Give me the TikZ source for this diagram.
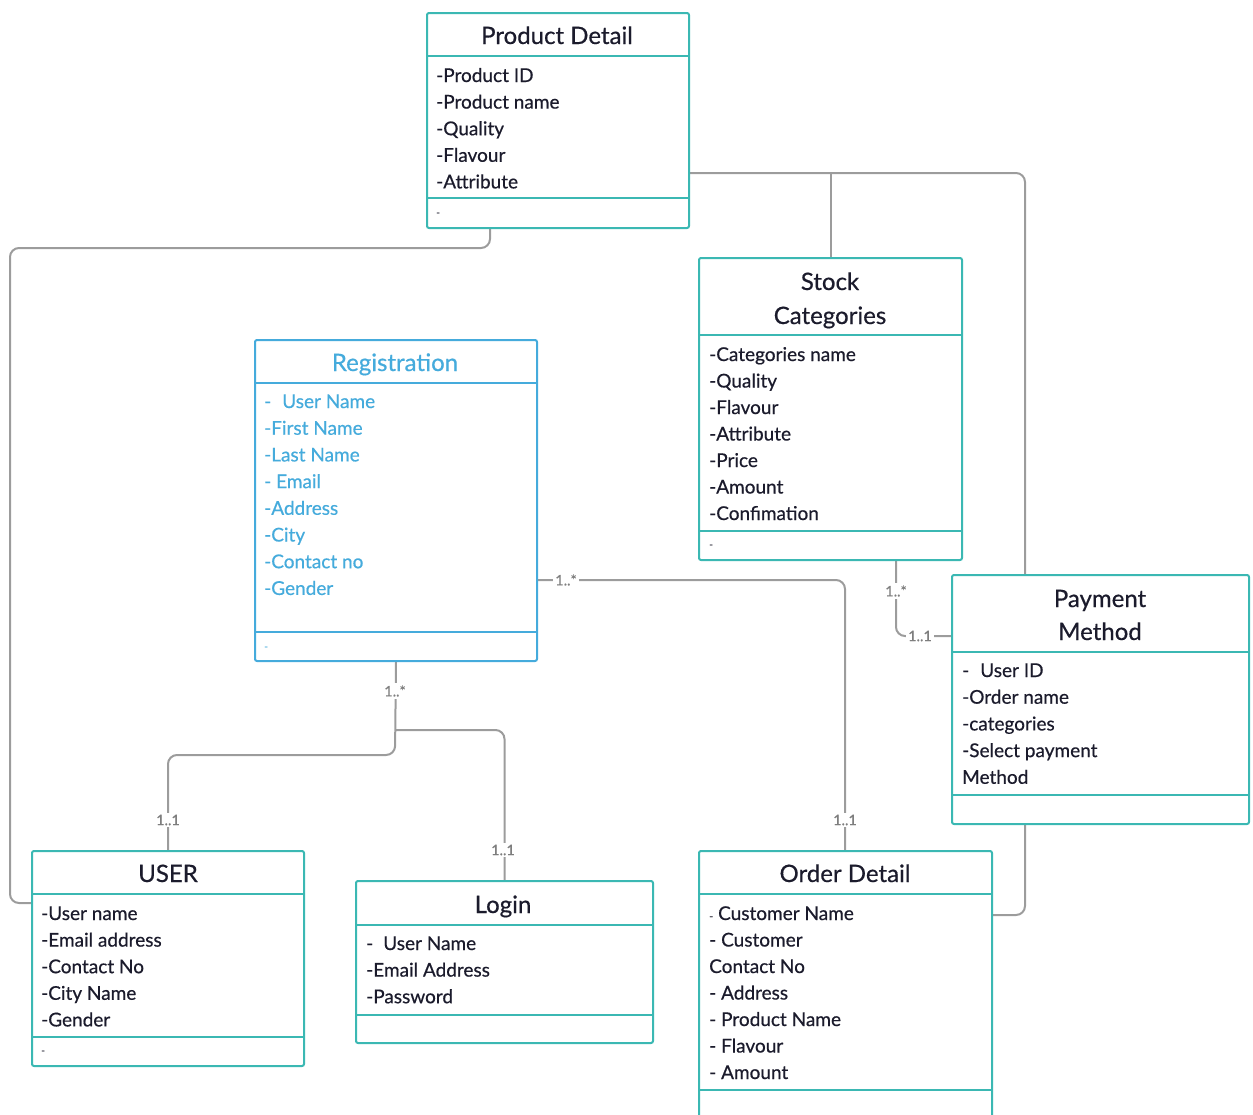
\documentclass[tikz,border=0pt]{standalone}
\usepackage{fontspec}
\setmainfont{Lato}[FakeBold=0.5]
\definecolor{frameteal}{HTML}{3BB8B3}
\definecolor{regblue}{HTML}{45ABDC}
\definecolor{ink}{HTML}{1B1B2C}
\definecolor{wire}{HTML}{9C9C9C}
\definecolor{multgrey}{HTML}{7E7E7E}
\tikzset{
  box/.style={draw=frameteal, line width=2pt, rounded corners=2pt, anchor=north west, inner sep=0pt},
  regbox/.style={box, draw=regblue},
  divider/.style={draw=frameteal, line width=2pt},
  regdivider/.style={draw=regblue, line width=2pt},
  title/.style={anchor=base, inner sep=0pt, text=ink, font=\fontsize{24}{28}\selectfont},
  attr/.style={anchor=base west, inner sep=0pt, text=ink, font=\fontsize{19}{22}\selectfont},
  regattr/.style={attr, text=regblue},
  tiny/.style={anchor=base west, inner sep=0pt, text=ink, font=\fontsize{10}{10}\selectfont},
  link/.style={draw=wire, line width=2pt, rounded corners=9pt},
  mult/.style={fill=white, inner sep=2pt, text=multgrey, font=\fontsize{14.5}{14.5}\selectfont}
}
\begin{document}
\begin{tikzpicture}[x=1pt,y=-1pt]
\useasboundingbox (0,0) rectangle (1253,1114);
\clip (0,0) rectangle (1253,1114);

% ---------- box outlines used as connector anchors ----------
\node[box, draw=none, minimum width=262pt, minimum height=215pt] (pd) at (426,12) {};
\node[box, draw=none, minimum width=263pt, minimum height=302pt] (sc) at (698,257) {};
\node[box, draw=none, minimum width=282pt, minimum height=321pt] (reg) at (254,339) {};
\node[box, draw=none, minimum width=297pt, minimum height=249pt] (pm) at (951,574) {};
\node[box, draw=none, minimum width=272pt, minimum height=215pt] (user) at (31,850) {};
\node[box, draw=none, minimum width=297pt, minimum height=162pt] (login) at (355,880) {};
\node[box, draw=none, minimum width=293pt, minimum height=280pt] (od) at (698,850) {};

% ---------- connectors (drawn first, boxes cover them) ----------
\coordinate (c1) at (1025,173);
\coordinate (c2) at (1025,915);
\coordinate (c3) at (490,248);
\coordinate (c4) at (10,903);
\coordinate (c5) at (845,580);
\coordinate (c6) at (896,636);
\coordinate (c7) at (395,755);
\coordinate (c8) at (168,755);
\coordinate (c9) at (395,730);

\draw[link] (c1 -| pd.east) -- (c1) -- (c1 |- pm.north);
\draw[link] (sc.north |- c1) -- (sc.north);
\draw[link] (c2 |- pm.south) -- (c2) -- (c2 -| od.east);
\draw[link] (c3 |- pd.south) -- (c3) -- (c4 |- c3) -- (c4) -- (c4 -| user.west);
\draw[link] (c5 -| reg.east) -- (c5) -- (c5 |- od.north);
\draw[link] (c6 |- sc.south) -- (c6) -- (c6 -| pm.west);
\draw[link] (reg.south) -- (c7) -- (c8) -- (user.north);
\draw[link] (c9) -- (login.north |- c9) -- (login.north);

\node[mult] (m1) at (566,580) {1..*};
\node[mult] (m2) at (845,820) {1..1};
\node[mult] (m3) at (896,591) {1..*};
\node[mult] (m4) at (920,636) {1..1};
\node[mult] (m5) at (395,691) {1..*};
\node[mult] (m6) at (168,820) {1..1};
\node[mult] (m7) at (503,850) {1..1};

% ---------- Product Detail ----------
\node[box, fill=white, minimum width=262pt, minimum height=215pt] at (426,12) {};
\draw[divider] (426,56) -- (688,56);
\draw[divider] (426,198) -- (688,198);
\node[title] (pd-t) at (557,44) {Product Detail};
\foreach \t [count=\i] in {-Product ID,-Product name,-Quality,-Flavour,-Attribute}
  \node[attr] (pd-\i) at (436,{82+26.6*(\i-1)}) {\t};
\node[tiny] (pd-m) at (436,216) {-};

% ---------- Stock Categories ----------
\node[box, fill=white, minimum width=263pt, minimum height=302pt] at (698,257) {};
\draw[divider] (698,335) -- (961,335);
\draw[divider] (698,531) -- (961,531);
\node[title] (sc-t1) at (830,290) {Stock};
\node[title] (sc-t2) at (830,324) {Categories};
\foreach \t [count=\i] in {-Categories name,-Quality,-Flavour,-Attribute,-Price,-Amount,-Confimation}
  \node[attr] (sc-\i) at (709,{361+26.5*(\i-1)}) {\t};
\node[tiny] (sc-m) at (709,548) {-};

% ---------- Registration ----------
\node[regbox, fill=white, minimum width=282pt, minimum height=321pt] at (254,339) {};
\draw[regdivider] (254,383) -- (536,383);
\draw[regdivider] (254,632) -- (536,632);
\node[title, text=regblue] (reg-t) at (395,371) {Registration};
\foreach \t [count=\i] in {{-\hspace{11pt}User Name},-First Name,-Last Name,- Email,-Address,-City,-Contact no,-Gender}
  \node[regattr] (reg-\i) at (264,{408+26.7*(\i-1)}) {\t};
\node[tiny, text=regblue] (reg-m) at (264,650) {-};

% ---------- Payment Method ----------
\node[box, fill=white, minimum width=297pt, minimum height=249pt] at (951,574) {};
\draw[divider] (951,652) -- (1248,652);
\draw[divider] (951,795) -- (1248,795);
\node[title] (pm-t1) at (1100,607) {Payment};
\node[title] (pm-t2) at (1100,640) {Method};
\foreach \t [count=\i] in {{-\hspace{11pt}User ID},-Order name,-categories,-Select payment,Method}
  \node[attr] (pm-\i) at (962,{677+26.7*(\i-1)}) {\t};

% ---------- USER ----------
\node[box, fill=white, minimum width=272pt, minimum height=215pt] at (31,850) {};
\draw[divider] (31,894) -- (303,894);
\draw[divider] (31,1037) -- (303,1037);
\node[title] (user-t) at (168,882) {USER};
\foreach \t [count=\i] in {-User name,-Email address,-Contact No,-City Name,-Gender}
  \node[attr] (user-\i) at (41,{920+26.6*(\i-1)}) {\t};
\node[tiny] (user-m) at (41,1054) {-};

% ---------- Login ----------
\node[box, fill=white, minimum width=297pt, minimum height=162pt] at (355,880) {};
\draw[divider] (355,925) -- (652,925);
\draw[divider] (355,1015) -- (652,1015);
\node[title] (login-t) at (503,913) {Login};
\foreach \t [count=\i] in {{-\hspace{10pt}User Name},-Email Address,-Password}
  \node[attr] (login-\i) at (366,{950+26.6*(\i-1)}) {\t};

% ---------- Order Detail ----------
\node[box, fill=white, minimum width=293pt, minimum height=280pt] at (698,850) {};
\draw[divider] (698,894) -- (991,894);
\draw[divider] (698,1090) -- (991,1090);
\node[title] (od-t) at (845,882) {Order Detail};
\foreach \t [count=\i] in {{{\fontsize{11}{11}\selectfont -} Customer Name},- Customer,Contact No,- Address,- Product Name,- Flavour,- Amount}
  \node[attr] (od-\i) at (709,{920+26.5*(\i-1)}) {\t};
\end{tikzpicture}
\end{document}
